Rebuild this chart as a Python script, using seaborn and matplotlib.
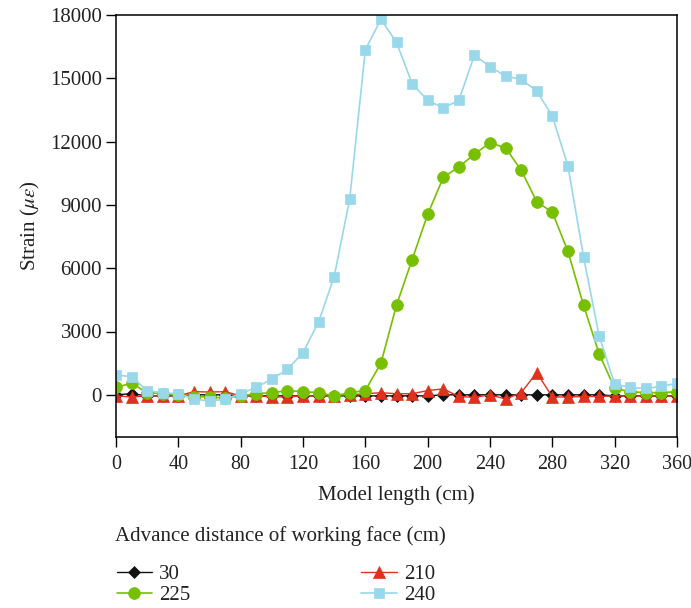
import numpy as np
import pandas as pd
import matplotlib
matplotlib.use('Agg')
import matplotlib.pyplot as plt
import seaborn as sns

###############################################################
# data (strain in micro-strain)
model_length = list(range(0, 370, 10))

strain_30 = [0, 50, -50, -50, -50, 0, 0, 0, -50, -50, -50, -50, -50, -50, -50, -50,
             -50, -50, -50, -50, -50, 0, 0, 0, 0, 0, 0, 0, 0, 0, 0, 0, -50, -50, -50, -50, -50]

strain_210 = [-50, -100, -50, -50, -50, 150, 130, 150, -50, -50, -100, -100, -50, -50, -50, 0,
              50, 100, 50, 50, 200, 280, -80, -120, 0, -200, 100, 1050, -100, -100, -80, -80,
              -50, -50, -50, -50, -50]

strain_225 = [350, 550, 100, 50, 0, -100, -100, -150, -50, 50, 100, 200, 150, 100, -50, 100,
              200, 1500, 4250, 6400, 8550, 10300, 10800, 11400, 11950, 11700, 10650, 9150,
              8650, 6800, 4250, 1950, 300, 150, 100, 100, 150]

strain_240 = [950, 850, 200, 100, 50, -200, -300, -200, 50, 350, 750, 1200, 2000, 3450, 5600,
              9300, 16350, 17800, 16700, 14750, 13950, 13600, 13950, 16100, 15550, 15100,
              14950, 14400, 13200, 10850, 6550, 2800, 500, 350, 300, 400, 550]

series = {'30': strain_30, '210': strain_210, '225': strain_225, '240': strain_240}
legend_order = ['30', '225', '210', '240']

#############################################################
# styles
styles = {
    '30':  dict(color='#111111', marker='D', markersize=6.5, linewidth=1.0),
    '210': dict(color='#e0301e', marker='^', markersize=9, linewidth=1.0),
    '225': dict(color='#77c000', marker='o', markersize=8.5, linewidth=1.2),
    '240': dict(color='#98d8ea', marker='s', markersize=7, linewidth=1.2),
}

sns.set_style('ticks')
plt.rcParams['font.family'] = ['Liberation Serif', 'DejaVu Serif']
plt.rcParams['mathtext.fontset'] = 'stix'

fs = 15
fig = plt.figure(figsize=(6.91, 6.08), dpi=100)
ax = fig.add_axes([116 / 691, 1 - 437 / 608, (677 - 116) / 691, (437 - 15) / 608])

for name in ['30', '210', '225', '240']:
    df = pd.DataFrame({'x': model_length, 'y': series[name]})
    st = styles[name]
    sns.lineplot(data=df, x='x', y='y', ax=ax, label=name, color=st['color'],
                 marker=st['marker'], markersize=st['markersize'], linewidth=st['linewidth'],
                 markeredgecolor=st['color'], markeredgewidth=0.5, legend=False)

ax.set_xlim(0, 360)
ax.set_ylim(-2000, 18000)
ax.set_xticks(np.arange(0, 361, 40))
ax.set_yticks(np.arange(0, 18001, 3000))
ax.tick_params(direction='out', length=7, width=1, labelsize=fs, color='black', labelcolor='#222222')
ax.tick_params(axis='x', pad=6, labelsize=14.5)
ax.tick_params(axis='y', pad=3)
for sp in ax.spines.values():
    sp.set_visible(True)
    sp.set_linewidth(1.1)
    sp.set_color('black')

ax.set_xlabel('Model length (cm)', fontsize=fs, labelpad=8, color='#222222')
ax.set_ylabel(r'Strain ($\mu\varepsilon$)', fontsize=fs, labelpad=6, color='#222222')

# legend title as separate text, entries below it
fig.text(115 / 691, 1 - 536 / 608, 'Advance distance of working face (cm)',
         fontsize=fs, color='#222222', ha='left', va='center')

handles, labels = ax.get_legend_handles_labels()
lookup = dict(zip(labels, handles))
leg = fig.legend([lookup[k] for k in legend_order], legend_order,
                 loc='upper left', bbox_to_anchor=(102 / 691, 1 - 550 / 608), ncol=2,
                 frameon=False, fontsize=fs, handlelength=1.7, handletextpad=0.35,
                 columnspacing=8.2, labelspacing=0.05, borderpad=0.2)
for t in leg.get_texts():
    t.set_color('#222222')

plt.savefig('out.png', dpi=100)
